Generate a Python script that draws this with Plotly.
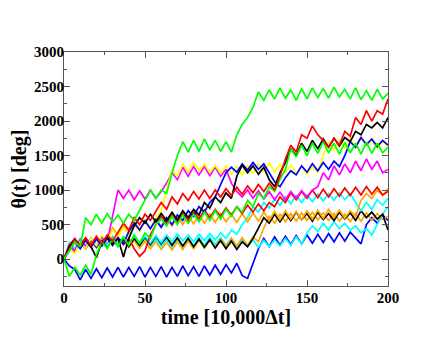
import plotly.graph_objs as go

# time axis, sampled every 10/3 units (x 10,000 dt)
time = [round(i * 10 / 3, 2) for i in range(61)]

green_a = [0, 120, 250, 180, 600, 500, 650, 520, 660,
           540, 640, 520, 650, 560, 700, 850, 1000, 880,
           1000, 950, 1250, 1500, 1700, 1550, 1720, 1560, 1740,
           1580, 1720, 1560, 1700, 1550, 1800, 1950, 2050, 2200,
           2420, 2300, 2450, 2320, 2480, 2330, 2450, 2300, 2470,
           2320, 2480, 2340, 2470, 2330, 2490, 2350, 2460, 2320,
           2480, 2310, 2440, 2300, 2460, 2320, 2400]

green_b = [0, -250, -120, -230, -90, -220, 60, 250, 150,
           300, 180, 320, 200, 350, 230, 380, 300, 500,
           580, 480, 620, 500, 640, 520, 650, 540, 680,
           560, 700, 580, 720, 620, 760, 680, 850, 760,
           950, 880, 1050, 980, 1150, 1300, 1600, 1480, 1650,
           1500, 1680, 1530, 1700, 1540, 1680, 1520, 1690, 1540,
           1680, 1520, 1690, 1530, 1680, 1540, 1620]

red_a = [0, 150, 280, 180, 300, 200, 330, 220, 350,
         260, 400, 520, 420, 600, 500, 650, 560, 700,
         820, 720, 900, 800, 950, 850, 980, 870, 1000,
         880, 1000, 900, 1020, 920, 1040, 940, 1060, 960,
         1080, 980, 1100, 1000, 1200, 1450, 1650, 1550, 1800,
         1750, 1930, 1800, 1720, 1620, 1750, 1650, 1850, 1780,
         2050, 1950, 2150, 2000, 2150, 2100, 2320]

red_b = [0, 200, 300, 190, 310, 200, 320, 210, 300,
         200, 310, 210, 300, 150, 40, 120, 350, 500,
         620, 520, 650, 540, 670, 560, 690, 580, 710,
         600, 720, 620, 740, 640, 760, 660, 780, 680,
         800, 700, 820, 760, 900, 820, 960, 860, 980,
         880, 1000, 890, 1010, 900, 1020, 910, 1030, 920,
         1040, 930, 1050, 940, 1040, 930, 980]

black_a = [0, 180, 280, 200, 300, 180, 20, 250, 320,
           220, 300, 30, 300, 480, 600, 520, 650, 540,
           660, 560, 680, 570, 700, 600, 720, 640, 820,
           740, 900, 820, 960, 880, 1200, 1360, 1250, 1350,
           1230, 1330, 1150, 1050, 1250, 1400, 1600, 1500, 1680,
           1560, 1720, 1600, 1740, 1620, 1750, 1640, 1760, 1700,
           1850, 1800, 1950, 1900, 1980, 1900, 2050]

black_b = [0, 200, 100, 260, 150, 280, 170, 290, 180,
           300, 190, 280, 180, 300, 200, 320, 210, 330,
           220, 320, 200, 310, 190, 300, 180, 290, 170,
           280, 160, 270, 150, 260, 140, 250, 180, 300,
           450, 600, 520, 650, 540, 660, 560, 680, 570,
           660, 550, 680, 570, 660, 560, 680, 580, 670,
           560, 700, 600, 680, 580, 650, 420]

blue_a = [0, -100, -150, -300, -150, -280, -140, -270, -130,
          -260, -120, -260, -120, -250, -110, -260, -120, -250,
          -110, -260, -120, -250, -100, -240, -110, -250, -100,
          -230, -90, -220, -80, -200, -60, -240, -280, -50,
          150, 300, 180, 320, 200, 330, 210, 340, 220,
          350, 230, 360, 240, 370, 250, 380, 260, 390,
          310, 220, 500, 600, 520, 640, 560]

blue_b = [0, 120, 250, 150, 270, 170, 290, 190, 300,
          200, 310, 220, 400, 520, 420, 550, 440, 570,
          460, 600, 500, 640, 560, 700, 620, 760, 680,
          820, 900, 1080, 1250, 1330, 1260, 1380, 1290, 1400,
          1300, 1380, 1250, 1120, 1050, 1180, 1280, 1220, 1350,
          1260, 1380, 1280, 1400, 1300, 1420, 1340, 1500, 1700,
          1620, 1760, 1660, 1740, 1630, 1720, 1650]

magenta = [0, 200, 120, 280, 180, 300, 200, 320, 250,
           650, 1000, 880, 1000, 860, 990, 870, 1000, 880,
           980, 1100, 1250, 1150, 1330, 1200, 1340, 1220, 1340,
           1210, 1330, 1200, 1300, 1100, 980, 900, 1000, 880,
           990, 870, 980, 860, 970, 860, 980, 880, 990,
           900, 1000, 1050, 1250, 1150, 1350, 1220, 1380, 1250,
           1420, 1280, 1450, 1300, 1420, 1250, 1300]

yellow = [0, 150, 80, 250, 150, 300, 200, 350, 260,
          420, 320, 460, 360, 500, 400, 540, 450, 600,
          700, 1000, 1300, 1200, 1380, 1260, 1400, 1280, 1380,
          1250, 1360, 1240, 1350, 1230, 1340, 1220, 1350, 1240,
          1380, 1270, 1390, 1260, 1370, 1250, 1360, 1240, 1350,
          1230, 1340, 1250, 1500, 1700, 1580, 1720, 1600, 1740,
          1620, 1760, 1640, 1720, 1600, 1700, 1640]

orange_a = [0, 150, 260, 160, 280, 180, 300, 200, 330,
            450, 350, 500, 400, 540, 430, 560, 450, 580,
            470, 600, 480, 620, 500, 630, 510, 640, 520,
            650, 530, 660, 540, 650, 530, 660, 540, 670,
            550, 680, 560, 690, 570, 700, 580, 690, 570,
            700, 580, 710, 590, 720, 600, 710, 590, 700,
            620, 850, 950, 880, 1000, 920, 1020]

orange_b = [0, 220, 120, 250, 150, 270, 170, 280, 180,
            290, 190, 280, 170, 270, 160, 260, 150, 250,
            140, 240, 130, 250, 140, 260, 150, 270, 160,
            280, 170, 290, 180, 300, 190, 310, 200, 320,
            250, 450, 620, 520, 650, 540, 660, 550, 670,
            560, 680, 570, 670, 560, 660, 550, 650, 540,
            660, 550, 670, 560, 660, 570, 620]

cyan_a = [0, 200, 120, 260, 170, 290, 190, 300, 200,
          310, 210, 320, 220, 330, 230, 330, 230, 340,
          240, 350, 250, 360, 260, 350, 250, 360, 270,
          370, 280, 380, 300, 420, 360, 500, 600, 760,
          680, 820, 740, 870, 780, 900, 800, 920, 820,
          930, 830, 940, 840, 950, 850, 960, 860, 950,
          820, 700, 820, 720, 860, 780, 880]

cyan_b = [0, 250, 150, 300, 190, 310, 200, 320, 210,
          330, 220, 320, 210, 310, 200, 300, 190, 290,
          180, 280, 170, 290, 180, 300, 190, 310, 200,
          320, 210, 310, 200, 300, 190, 290, 180, 280,
          170, 270, 180, 280, 190, 300, 200, 320, 220,
          380, 480, 400, 520, 420, 540, 440, 520, 420,
          480, 380, 440, 350, 500, 650, 760]

# drawing order, bottom first
series = [
    (blue_a, "#0000ff"),
    (cyan_b, "#00ffff"),
    (orange_b, "#ffa500"),
    (black_b, "#000000"),
    (cyan_a, "#00ffff"),
    (orange_a, "#ffa500"),
    (red_b, "#ff0000"),
    (magenta, "#ff00ff"),
    (yellow, "#ffff00"),
    (blue_b, "#0000ff"),
    (black_a, "#000000"),
    (green_b, "#00ff00"),
    (red_a, "#ff0000"),
    (green_a, "#00ff00"),
]

fig = go.Figure()
for vals, col in series:
    fig.add_trace(go.Scatter(x=time[:len(vals)], y=vals, mode="lines",
                             line=dict(color=col, width=1.7),
                             showlegend=False, hoverinfo="skip"))

serif = "Liberation Serif, Times New Roman, DejaVu Serif, serif"
tickfont = dict(family=serif, size=15, color="black", weight="bold")
titlefont = dict(family=serif, size=20, color="black", weight="bold")
axis_common = dict(showline=True, linecolor="#555555", linewidth=1, mirror="ticks",
                   ticks="inside", ticklen=6, tickcolor="#555555", showgrid=False,
                   zeroline=False, tickfont=tickfont, automargin=False)

# page body has an 8px margin, so the figure is a bit smaller than the window
fig.update_layout(
    width=428, height=329,
    margin=dict(l=56, r=48, t=44, b=51),
    plot_bgcolor="white", paper_bgcolor="white",
    xaxis=dict(range=[0, 200], tickvals=[0, 50, 100, 150, 200],
               minor=dict(ticks="inside", ticklen=3, dtick=25, tickcolor="#555555"),
               title=dict(text="time [10,000Δt]", font=titlefont, standoff=0),
               ticklabelstandoff=-2,
               **axis_common),
    yaxis=dict(range=[-390, 3000], tickvals=[0, 500, 1000, 1500, 2000, 2500, 3000],
               minor=dict(ticks="inside", ticklen=3, tick0=0, dtick=250, tickcolor="#555555"),
               title=dict(text="θ(t) [deg]", font=titlefont, standoff=4),
               ticklabelstandoff=-4,
               **axis_common),
)

fig.write_html("out.html")
